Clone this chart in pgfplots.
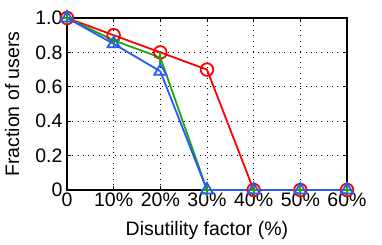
\documentclass[border=0pt]{standalone}
\usepackage{pgfplots}
\pgfplotsset{compat=1.18}
\usepackage{fontspec}
\setmainfont{Liberation Sans}
\definecolor{mred}{rgb}{1,0,0}
\definecolor{mgreen}{rgb}{0.12,0.65,0.05}
\definecolor{mblue}{rgb}{0.15,0.35,1}
\begin{document}
\begin{tikzpicture}
\useasboundingbox (-67pt,-55pt) rectangle (315pt,190pt);
\begin{axis}[
  at={(0,0)}, anchor=south west,
  scale only axis,
  width=280pt, height=172pt,
  xmin=0, xmax=60, ymin=0, ymax=1,
  xtick={0,10,20,30,40,50,60},
  xticklabels={0,10\%,20\%,30\%,40\%,50\%,60\%},
  ytick={0,0.2,0.4,0.6,0.8,1.0},
  yticklabels={0,0.2,0.4,0.6,0.8,1.0},
  grid=major,
  major grid style={black, line width=0.6pt, dash pattern=on 0.8pt off 4.5pt},
  axis line style={black, line width=1.2pt},
  tick style={black, line width=0.7pt},
  major tick length=4pt,
  tick align=inside,
  xtick pos=both, ytick pos=both,
  ticklabel style={font=\fontsize{19.5}{22}\selectfont},
  label style={font=\fontsize{19.5}{22}\selectfont},
  xlabel={Disutility factor (\%)},
  ylabel={Fraction of users},
  xlabel style={at={(axis description cs:0.5,-0.2326)}, anchor=center},
  ylabel style={at={(axis description cs:-0.196,0.5)}, anchor=center, rotate=0},
  xticklabel style={yshift=1pt},
  yticklabel style={xshift=-1pt},
  clip=false,
]
\addplot[mred, line width=1.8pt, mark=o, mark size=6.3pt, mark options={line width=1.8pt}]
  coordinates {(0,1.0) (10,0.90) (20,0.80) (30,0.70) (40,0) (50,0) (60,0)};
\addplot[mgreen, line width=1.8pt, mark=+, mark size=6pt, mark options={line width=1.8pt}]
  coordinates {(0,1.0) (10,0.87) (20,0.77) (30,0) (40,0) (50,0) (60,0)};
\addplot[mblue, line width=1.8pt, mark=triangle, mark size=7pt, mark options={line width=1.8pt}]
  coordinates {(0,1.0) (10,0.85) (20,0.69) (30,0) (40,0) (50,0) (60,0)};
\end{axis}
\end{tikzpicture}
\end{document}
